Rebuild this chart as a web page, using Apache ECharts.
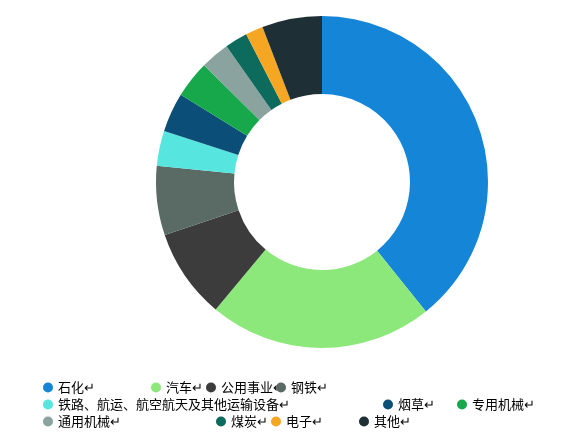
<!DOCTYPE html><html><head><meta charset="utf-8">
<script src="https://cdn.jsdelivr.net/npm/echarts@6/dist/echarts.min.js"></script>
<style>html,body{margin:0;padding:0;background:#fff}#c{width:563px;height:437px}</style></head><body><div id="c"></div>
<script>
const names=['石化↵','汽车↵','公用事业↵','钢铁↵','铁路、航运、航空航天及其他运输设备↵','烟草↵','专用机械↵','通用机械↵','煤炭↵','电子↵','其他↵'];
const values=[39,21.7,8.7,6.7,3.4,3.8,3.6,2.8,2.2,1.7,5.8];
const colors=['#1585d8','#8ce87a','#3c3c3c','#5a6b66','#56e6df','#0b4f79','#18a84c','#8aa39e','#0d6b5e','#f5a623','#1f2f36'];
const legendPos=[[38,376],[146,376],[201,376],[271,376],[38,393],[378,393],[452,393],[38,410],[211,410],[266,410],[354,410]];
const chart=echarts.init(document.getElementById('c'));
chart.setOption({
 color:colors,animation:false,
 legend:names.map((n,i)=>({data:[n],left:legendPos[i][0],top:legendPos[i][1],icon:'circle',itemWidth:10,itemHeight:10,itemGap:0,
  textStyle:{fontSize:13,color:'#000',fontFamily:'Noto Sans CJK SC'}})),
 series:[{type:'pie',center:[322,182],radius:[88,166],startAngle:90,clockwise:true,label:{show:false},labelLine:{show:false},
  itemStyle:{borderColor:'#fff',borderWidth:0},
  data:names.map((n,i)=>({name:n,value:values[i]}))}]
});
</script></body></html>
